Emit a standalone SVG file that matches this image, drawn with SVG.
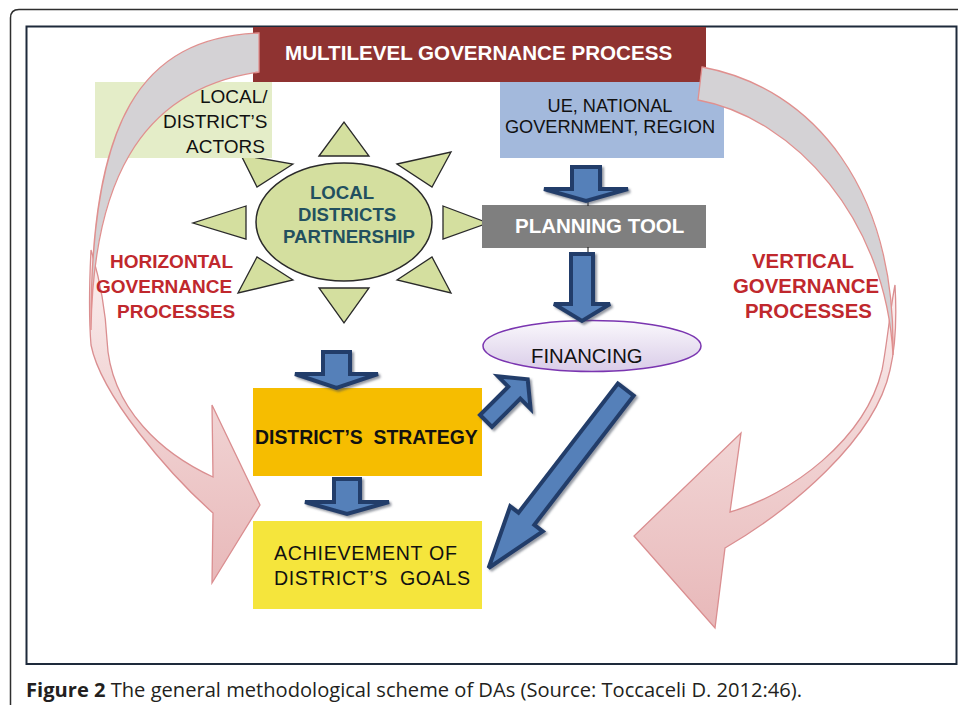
<svg xmlns="http://www.w3.org/2000/svg" width="958" height="705" viewBox="0 0 958 705">
<style>
.sans{font-family:"Liberation Sans",Arial,sans-serif}
.b{font-weight:bold}
.blk{fill:#111}
.pre{white-space:pre}
.red{fill:#c0282d;font-weight:bold;font-family:"Liberation Sans",Arial,sans-serif}
.tri{fill:#d4df9f;stroke:#2a2a2a;stroke-width:1.3}
.blue{fill:#5580b9;stroke:#243e6a;stroke-width:4;stroke-linejoin:miter;stroke-miterlimit:3}
.back{fill:#d4d2d5;stroke:#e0908f;stroke-width:1.3}
</style>
<defs>
<filter id="sh" x="-30%" y="-30%" width="160%" height="160%">
<feDropShadow dx="2" dy="2" stdDeviation="1" flood-color="#3e4858" flood-opacity="0.55"/>
</filter>
<linearGradient id="pinkL" gradientUnits="userSpaceOnUse" x1="0" y1="250" x2="0" y2="585">
<stop offset="0" stop-color="#fbf0f0"/>
<stop offset="0.45" stop-color="#f1d4d4"/>
<stop offset="1" stop-color="#e8b8b9"/>
</linearGradient>
<linearGradient id="pinkR" gradientUnits="userSpaceOnUse" x1="0" y1="285" x2="0" y2="628">
<stop offset="0" stop-color="#fbf0f0"/>
<stop offset="0.45" stop-color="#f1d4d4"/>
<stop offset="1" stop-color="#e8b8b9"/>
</linearGradient>
<linearGradient id="fin" x1="0" y1="0" x2="0" y2="1">
<stop offset="0" stop-color="#faf8fc"/>
<stop offset="1" stop-color="#d9cce8"/>
</linearGradient>
</defs>

<rect width="958" height="705" fill="#fff"/>
<path d="M10.5,720 V18 Q10.5,9.5 19,9.5 H970" fill="none" stroke="#2e2e2e" stroke-width="1.5"/>
<rect x="26.5" y="26.5" width="930" height="637.5" fill="#fff" stroke="#1e2a3b" stroke-width="2"/>

<g id="sun">
<polygon class="tri" points="319,156 344,122 369,156"/>
<polygon class="tri" points="397,164 451,152 432,187"/>
<polygon class="tri" points="443,206 488,223 443,239"/>
<polygon class="tri" points="397,280 432,257 451,293"/>
<polygon class="tri" points="319,288 369,288 344,323"/>
<polygon class="tri" points="293,280 257,257 238,293"/>
<polygon class="tri" points="246,206 193,223 246,239"/>
<polygon class="tri" points="293,164 257,187 241,155"/>
<ellipse cx="344" cy="222" rx="88" ry="59" fill="#d4df9f" stroke="#2a2a2a" stroke-width="1.5"/>
<g class="sans b" font-size="18.6" fill="#22505f">
<text x="310" y="199">LOCAL</text>
<text x="298" y="221">DISTRICTS</text>
<text x="283" y="243">PARTNERSHIP</text>
</g>
</g>

<g id="multilevel">
<rect x="253" y="27" width="453" height="55" fill="#8f3331"/>
<text x="285" y="60" class="sans b" font-size="20.6" fill="#fff">MULTILEVEL GOVERNANCE PROCESS</text>
</g>

<g id="actors">
<rect x="95" y="82" width="177" height="76" fill="#e4edc8"/>
<g class="sans blk" font-size="19">
<text x="200" y="103">LOCAL/</text>
<text x="163" y="128">DISTRICT’S</text>
<text x="186" y="153">ACTORS</text>
</g>
</g>

<g id="ue">
<rect x="500" y="82" width="224" height="76" fill="#a3b9dc"/>
<g class="sans blk" font-size="18.2" text-anchor="middle">
<text x="610" y="112">UE, NATIONAL</text>
<text x="610" y="133">GOVERNMENT, REGION</text>
</g>
</g>

<g id="planning">
<rect x="482" y="205" width="224" height="43" fill="#7f7f7f"/>
<text x="515" y="233" class="sans b" font-size="20.5" fill="#fff">PLANNING TOOL</text>
</g>

<g id="financing">
<ellipse cx="592" cy="346" rx="109" ry="25.5" fill="url(#fin)" stroke="#7a35b0" stroke-width="1.5"/>
<text x="531" y="363" class="sans blk" font-size="20.3">FINANCING</text>
</g>

<g id="strategy">
<rect x="253" y="388" width="229" height="88" fill="#f6bd00"/>
<text x="255" y="444" class="sans b blk pre" font-size="19.4" xml:space="preserve">DISTRICT’S  STRATEGY</text>
</g>

<g id="goals">
<rect x="253" y="521" width="229" height="88" fill="#f5e53c"/>
<text x="274" y="560" class="sans blk pre" font-size="19.6" xml:space="preserve" textLength="183" lengthAdjust="spacing">ACHIEVEMENT OF</text>
<text x="274" y="585" class="sans blk pre" font-size="19.6" xml:space="preserve" textLength="196" lengthAdjust="spacing">DISTRICT’S  GOALS</text>
</g>

<g id="connectors">
<line x1="588" y1="199" x2="588" y2="206" stroke="#111" stroke-width="1"/>
<line x1="588" y1="247" x2="588" y2="253" stroke="#111" stroke-width="1"/>
<path d="M91,250 C89,290 89,320 91,345 C101,395 168,473 213,513 L212,583 L260,505 L212,405 L213,477 C165,455 110,410 107,340 C105,300 97,270 91,250 Z" fill="url(#pinkL)" stroke="#da8e90" stroke-width="1.3"/>
<path class="back" d="M259,33 C140,38 90,120 91,330 C93,190 135,90 259,72 Z"/>
<path d="M895,285 C897,320 896,345 890,370 C875,440 790,510 725,548 L715,628 L634,536 L741,433 L730,512 C790,495 865,440 882,370 C887,345 890,310 895,285 Z" fill="url(#pinkR)" stroke="#da8e90" stroke-width="1.3"/>
<path class="back" d="M702,67 C815,88 896,190 893,355 C886,220 795,118 698,100 Z"/>
<g filter="url(#sh)">
<path class="blue" d="M572,167 H600 V189 H628 L586,201 L544,189 H572 Z"/>
<path class="blue" d="M571,254 H593 V304 H610 L582,321 L554,304 H571 Z"/>
<path class="blue" d="M323,352 H350 V374 H378 L336.5,388 L295,374 H323 Z"/>
<path class="blue" d="M334,479 H360 V502 H389 L347,514 L305,502 H334 Z"/>
<path class="blue" d="M480,415 L508.3,386.7 L498,376.4 L527.7,379.3 L530.6,409 L520.3,398.7 L492,427 Z"/>
<path class="blue" d="M617.9,383.5 L518.5,512.7 L510.2,506.3 L488.6,568 L542.7,531.3 L534.3,524.9 L633.7,395.7 Z"/>
</g>
</g>

<g id="horizontal">
<text x="110" y="268" class="red" font-size="19">HORIZONTAL</text>
<text x="96" y="293" class="red" font-size="19">GOVERNANCE</text>
<text x="117" y="318" class="red" font-size="19">PROCESSES</text>
</g>

<g id="vertical">
<text x="752" y="268" class="red" font-size="20.4">VERTICAL</text>
<text x="733" y="293" class="red" font-size="20.4">GOVERNANCE</text>
<text x="745" y="318" class="red" font-size="20.4">PROCESSES</text>
</g>

<text x="26" y="697" font-family="'Open Sans','Noto Sans',sans-serif" font-size="19.6" fill="#231f20" textLength="776" lengthAdjust="spacingAndGlyphs"><tspan font-weight="bold">Figure 2</tspan> The general methodological scheme of DAs (Source: Toccaceli D. 2012:46).</text>
</svg>
